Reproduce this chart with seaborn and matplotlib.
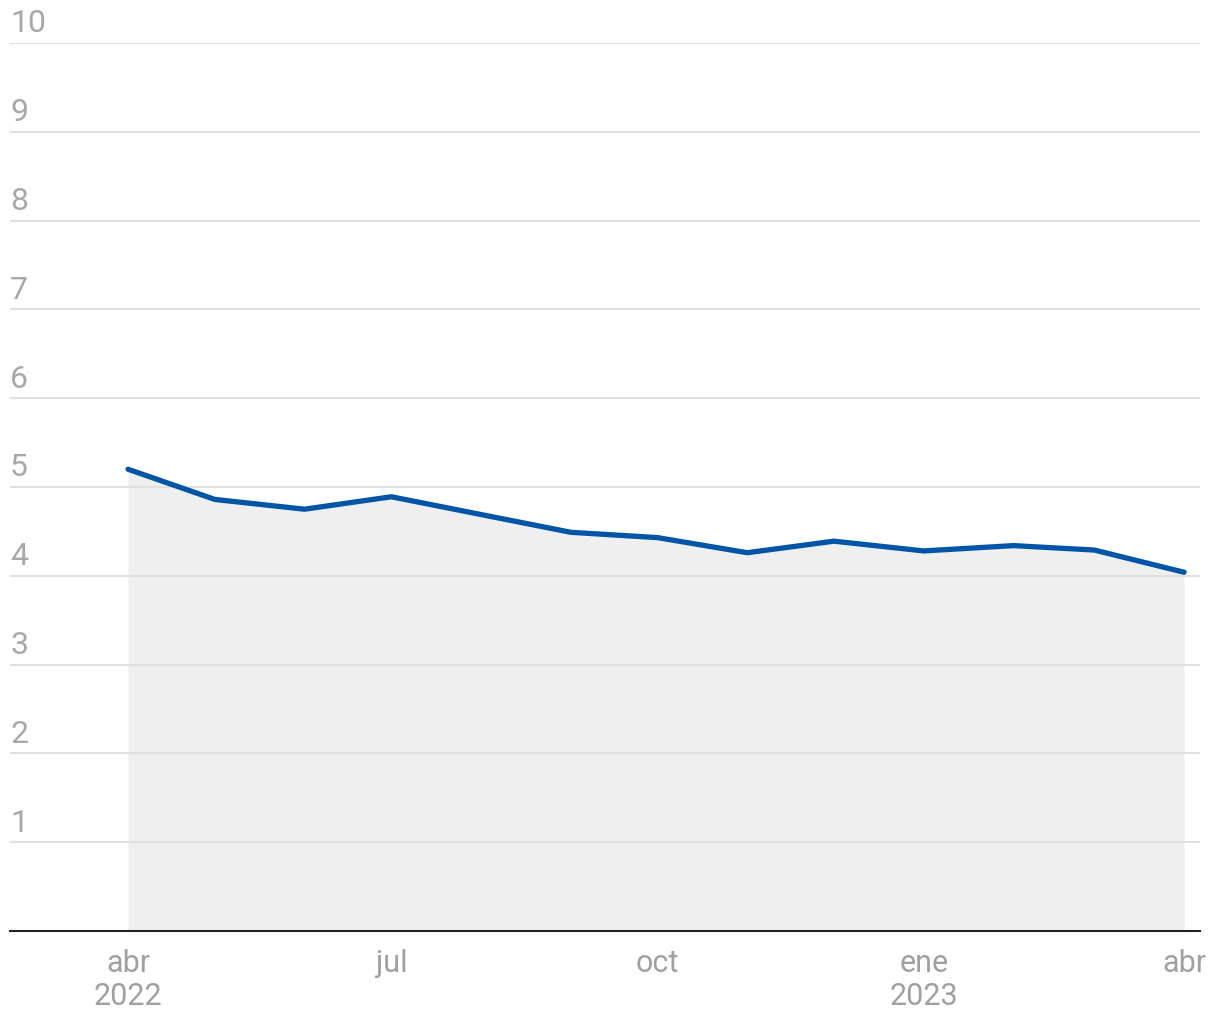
import matplotlib
matplotlib.use("Agg")
import matplotlib.pyplot as plt
import matplotlib.transforms as mtransforms
import seaborn as sns
import pandas as pd

# monthly values, abr 2022 - abr 2023
months = ["2022-04-01", "2022-05-01", "2022-06-01", "2022-07-01", "2022-08-01",
          "2022-09-01", "2022-10-01", "2022-11-01", "2022-12-01", "2023-01-01",
          "2023-02-01", "2023-03-01", "2023-04-01"]
values = [5.20, 4.86, 4.75, 4.89, 4.69, 4.49, 4.43, 4.26, 4.39, 4.28, 4.34, 4.29, 4.04]

tick_dates = ["2022-04-01", "2022-07-01", "2022-10-01", "2023-01-01", "2023-04-01"]
tick_labels = ["abr\n2022", "jul", "oct", "ene\n2023", "abr"]
y_ticks = [1, 2, 3, 4, 5, 6, 7, 8, 9, 10]

df = pd.DataFrame({"fecha": pd.to_datetime(months), "valor": values})

sns.set_style("white")
plt.rcParams["font.family"] = ["Roboto", "DejaVu Sans"]

fig = plt.figure(figsize=(12.2, 10.2), dpi=100)
ax = fig.add_axes([10 / 1220, 88 / 1020, 1190 / 1220, (932 - 44) / 1020])

ax.fill_between(df["fecha"], df["valor"], 0, color="#efefef", linewidth=0, zorder=1)
for y in y_ticks:
    ax.axhline(y, color="#e0e0e0", linewidth=1.5, zorder=2)
sns.lineplot(data=df, x="fecha", y="valor", ax=ax, color="#0055a6",
             linewidth=3.8, zorder=3, solid_capstyle="round", solid_joinstyle="round")

ax.set_xlim(pd.Timestamp("2022-04-01") - pd.Timedelta(days=40.8),
            pd.Timestamp("2023-04-01") + pd.Timedelta(days=5.5))
ax.set_ylim(0, 10)

for s in ["top", "right", "left"]:
    ax.spines[s].set_visible(False)
ax.spines["bottom"].set_color("#222222")
ax.spines["bottom"].set_linewidth(1.5)
ax.spines["bottom"].set_zorder(4)

ax.set_xticks(pd.to_datetime(tick_dates))
ax.set_xticklabels(tick_labels, fontsize=22, color="#a0a0a0", linespacing=1.2)
ax.tick_params(axis="x", length=0, pad=12)
ax.set_yticks([])
ax.set_xlabel("")
ax.set_ylabel("")

trans = mtransforms.blended_transform_factory(ax.transAxes, ax.transData)
off = mtransforms.ScaledTranslation(0, 4 / 72, fig.dpi_scale_trans)
for y in y_ticks:
    ax.text(0, y, str(y), transform=trans + off, ha="left", va="bottom",
            fontsize=23, color="#a8a8a8")

fig.savefig("out.png", dpi=100)
